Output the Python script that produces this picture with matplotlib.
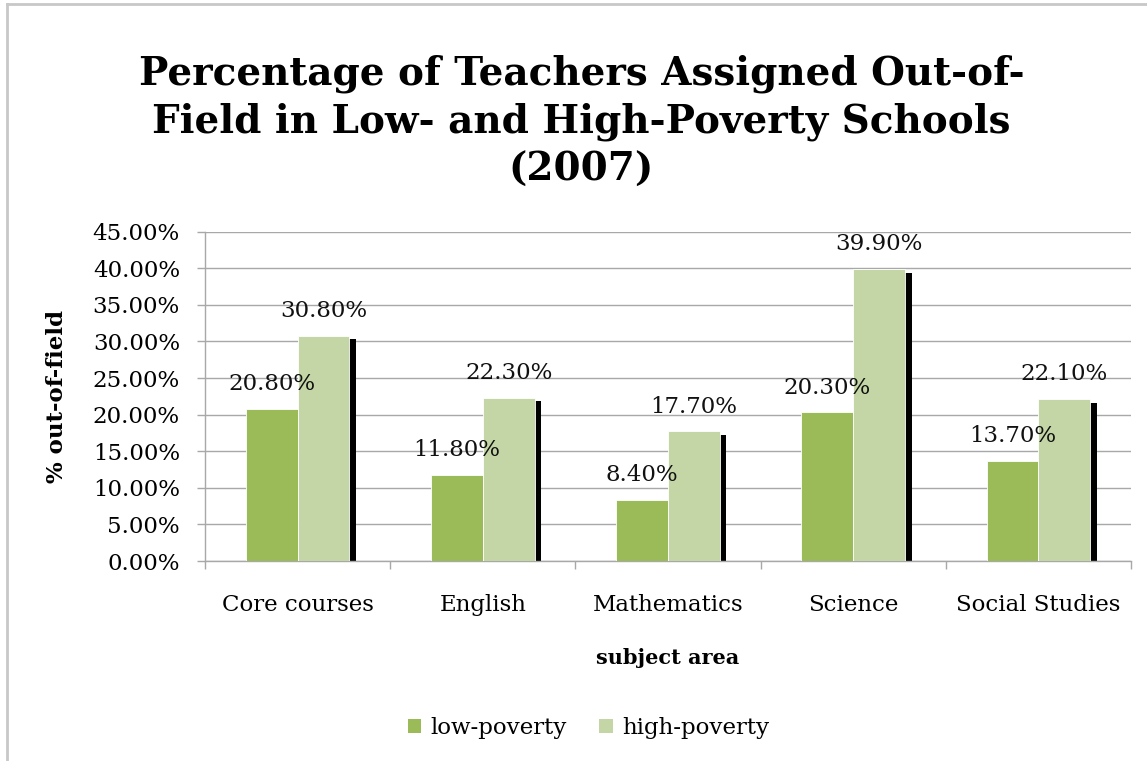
import matplotlib
matplotlib.use("Agg")
import matplotlib.pyplot as plt
from matplotlib.patches import Patch
from matplotlib.lines import Line2D

# chart data
subjects = ["Core courses", "English", "Mathematics", "Science", "Social Studies"]
low_poverty = [20.8, 11.8, 8.4, 20.3, 13.7]
high_poverty = [30.8, 22.3, 17.7, 39.9, 22.1]
y_ticks = [0, 5, 10, 15, 20, 25, 30, 35, 40, 45]

LOW_COLOR = "#9BBB59"
HIGH_COLOR = "#C4D6A6"
GRID_COLOR = "#A8A8A8"
FONT = "DejaVu Serif"


def make_chart(output_path="out.png"):
    fig = plt.figure(figsize=(11.47, 7.61), dpi=100)
    ax = fig.add_axes([0.1787, 0.2628, 0.8074, 0.4327])

    width = 0.28
    xs = list(range(len(subjects)))

    # shadow behind the high-poverty bars
    ax.bar([x + 0.035 for x in xs], [v - 0.5 for v in high_poverty], width=width,
           align="edge", color="black", zorder=2)
    ax.bar([x - width for x in xs], low_poverty, width=width, align="edge",
           color=LOW_COLOR, edgecolor="white", linewidth=0.6, zorder=3)
    ax.bar(xs, high_poverty, width=width, align="edge",
           color=HIGH_COLOR, edgecolor="white", linewidth=0.6, zorder=3)

    for x, lo, hi in zip(xs, low_poverty, high_poverty):
        ax.text(x - width / 2, lo + 3.4, f"{lo:.2f}%", ha="center", va="center",
                fontsize=16.5, family=FONT, color="#111111", zorder=5)
        ax.text(x + width / 2, hi + 3.4, f"{hi:.2f}%", ha="center", va="center",
                fontsize=16.5, family=FONT, color="#111111", zorder=5)

    ax.set_xlim(-0.5, len(subjects) - 0.5)
    ax.set_ylim(0, 45)
    ax.set_yticks(y_ticks)
    ax.set_yticklabels([f"{t:.2f}%" for t in y_ticks], family=FONT, fontsize=16.5)
    ax.set_xticks(xs)
    ax.set_xticklabels(subjects, family=FONT, fontsize=16.5)
    ax.set_xticks([x - 0.5 for x in range(len(subjects) + 1)], minor=True)

    ax.tick_params(axis="x", which="major", length=0, pad=24)
    ax.tick_params(axis="x", which="minor", length=6, width=1, color=GRID_COLOR,
                   direction="out")
    ax.tick_params(axis="y", length=6, width=1, color=GRID_COLOR, pad=12)

    ax.yaxis.grid(True, color=GRID_COLOR, linewidth=1)
    ax.set_axisbelow(True)
    for side in ["top", "right"]:
        ax.spines[side].set_visible(False)
    for side in ["left", "bottom"]:
        ax.spines[side].set_color(GRID_COLOR)
        ax.spines[side].set_linewidth(1)

    ax.set_ylabel("% out-of-field", family=FONT, fontsize=16.5, fontweight="bold")
    ax.yaxis.set_label_coords(-0.148, 0.5)
    ax.set_xlabel("subject area", family=FONT, fontsize=15, fontweight="bold",
                  labelpad=23)

    fig.text(0.507, 0.840,
             "Percentage of Teachers Assigned Out-of-\n"
             "Field in Low- and High-Poverty Schools\n(2007)",
             ha="center", va="center", fontsize=28, fontweight="bold",
             family=FONT, linespacing=1.32)

    handles = [Patch(facecolor=LOW_COLOR, label="low-poverty"),
               Patch(facecolor=HIGH_COLOR, label="high-poverty")]
    fig.legend(handles=handles, loc="center", bbox_to_anchor=(0.513, 0.043),
               ncol=2, frameon=False, prop={"family": FONT, "size": 16.5},
               handlelength=0.6, handleheight=0.6, handletextpad=0.4,
               columnspacing=1.4)

    # chart area border (left and top visible)
    fig.add_artist(Line2D([0.006, 0.006], [0, 0.995], transform=fig.transFigure,
                          color="#C8C8C8", linewidth=2))
    fig.add_artist(Line2D([0.006, 1.0], [0.995, 0.995], transform=fig.transFigure,
                          color="#C8C8C8", linewidth=2))

    fig.savefig(output_path, dpi=100)
    plt.close(fig)
    return output_path


if __name__ == "__main__":
    make_chart()
